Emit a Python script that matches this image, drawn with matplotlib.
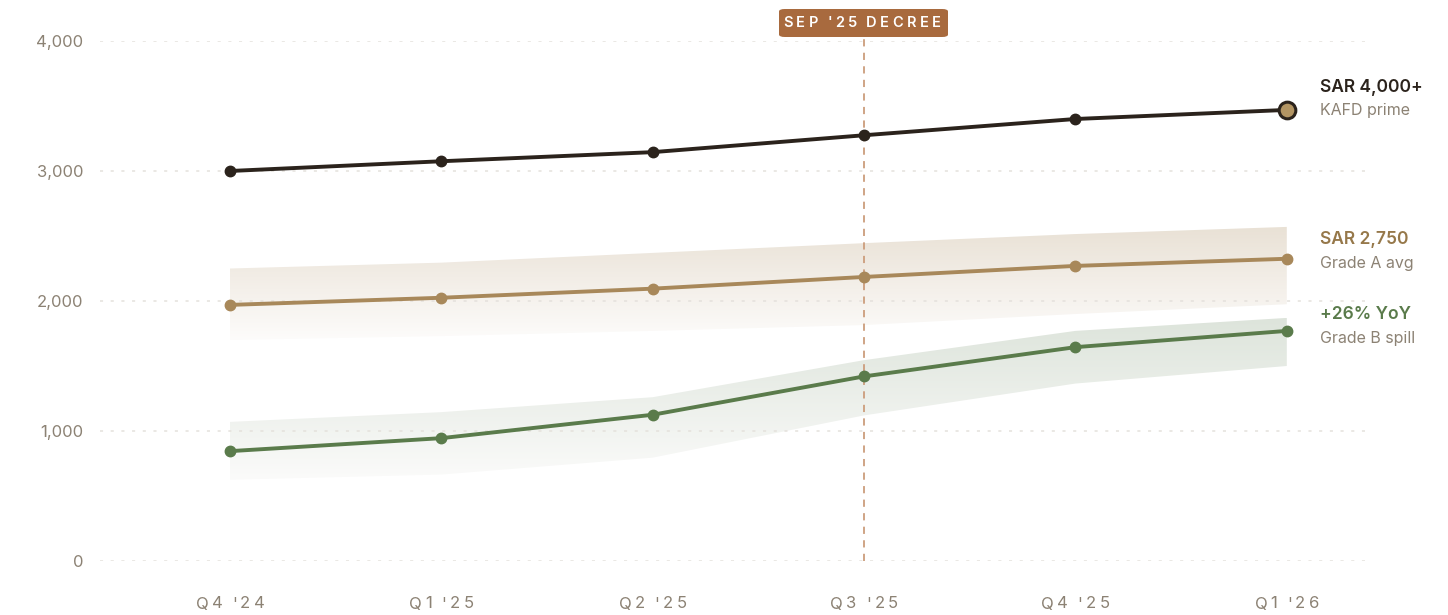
import matplotlib.pyplot as plt
import matplotlib.transforms as mtransforms
from matplotlib.colors import LinearSegmentedColormap
from matplotlib.font_manager import FontProperties
from matplotlib.textpath import TextToPath
from matplotlib.patches import FancyBboxPatch
import numpy as np

plt.rcParams['font.family'] = ['Inter', 'DejaVu Sans']

quarters = ["Q4 '24", "Q1 '25", "Q2 '25", "Q3 '25", "Q4 '25", "Q1 '26"]
kafd_prime = [3000, 3075, 3145, 3275, 3400, 3470]
grade_a = [1970, 2025, 2095, 2185, 2270, 2325]
grade_a_hi = [2250, 2295, 2370, 2445, 2515, 2570]
grade_a_lo = [1700, 1730, 1770, 1815, 1900, 1975]
grade_b = [845, 945, 1125, 1420, 1645, 1770]
grade_b_hi = [1070, 1145, 1260, 1545, 1770, 1870]
grade_b_lo = [625, 665, 795, 1120, 1365, 1500]
y_ticks = [0, 1000, 2000, 3000, 4000]
decree_idx = 3

DARK = '#2b231c'
TAN = '#a8885a'
GREEN = '#5a7b4b'
MUTED = '#8c8274'

fig = plt.figure(figsize=(14.48, 6.15), dpi=100)
ax = fig.add_axes([100 / 1448, 54 / 615, 1265 / 1448, 520 / 615])
x = np.arange(len(quarters))
for s in ax.spines.values():
    s.set_visible(False)
ax.set_xticks([])
ax.set_yticks(y_ticks)
ax.set_yticklabels([f'{v:,}' for v in y_ticks], color=MUTED, fontsize=12)
ax.tick_params(axis='y', length=0, pad=12)

for v in y_ticks:
    ax.axhline(v, color='#e4e1dc', lw=1.1, ls=(0, (2, 5)), zorder=2)


def gradient_band(lo, hi, top, bottom):
    poly = ax.fill_between(x, lo, hi, color='none', lw=0)
    cmap = LinearSegmentedColormap.from_list('band', [bottom, top])
    grad = np.linspace(0, 1, 256).reshape(-1, 1)
    im = ax.imshow(grad, cmap=cmap, aspect='auto', origin='lower',
                   extent=[x[0], x[-1], min(lo), max(hi)], zorder=1)
    im.set_clip_path(poly.get_paths()[0], transform=ax.transData)


gradient_band(grade_a_lo, grade_a_hi, '#e9e1d5', '#fdfcfb')
gradient_band(grade_b_lo, grade_b_hi, '#dde4db', '#fbfbfa')
ax.set_xlim(-0.615, 5.37)
ax.set_ylim(0, 4000)

# decree marker
ax.plot([decree_idx, decree_idx], [0, 4000 + 30], color='#cc9d7c', lw=1.3,
        ls=(0, (4, 3.5)), zorder=2, clip_on=False)

ax.plot(x, kafd_prime, color=DARK, lw=2.8, marker='o', ms=7.5, zorder=4)
ax.plot(x[-1], kafd_prime[-1], marker='o', ms=12, mfc='#b39563', mec=DARK,
        mew=2.2, zorder=5, clip_on=False)
ax.plot(x, grade_a, color=TAN, lw=2.8, marker='o', ms=7.5, zorder=4)
ax.plot(x, grade_b, color=GREEN, lw=2.8, marker='o', ms=7.5, zorder=4)

t2p = TextToPath()


def spaced_text(xd, yd, s, spacing, size, weight='normal', color='k', transform=None):
    # letter-spaced text, one glyph at a time
    prop = FontProperties(family=['Inter', 'DejaVu Sans'], size=size, weight=weight)
    widths = []
    for c in s:
        if c == ' ':
            w = 0.6 * (t2p.get_text_width_height_descent('a a', prop, ismath=False)[0]
                       - t2p.get_text_width_height_descent('aa', prop, ismath=False)[0])
        else:
            w = t2p.get_text_width_height_descent(c, prop, ismath=False)[0]
        widths.append(w)
    total = sum(widths) + spacing * (len(s) - 1)
    off = -total / 2
    for c, w in zip(s, widths):
        tr = mtransforms.offset_copy(transform, fig=fig, x=off, y=0, units='points')
        fig.text(xd, yd, c, transform=tr, fontproperties=prop, color=color,
                 ha='left', va='center')
        off += w + spacing


blend = mtransforms.blended_transform_factory(ax.transData, fig.transFigure)
for i, q in enumerate(quarters):
    spaced_text(i, 1 - 604 / 615, q, 2.4, 12, color=MUTED, transform=blend)

# decree tag
box = FancyBboxPatch((779 / 1448, 1 - 37 / 615), 169 / 1448, 28 / 615,
                     boxstyle='round,pad=0,rounding_size=0.004',
                     transform=fig.transFigure, fc='#a86a3e', ec='none')
fig.patches.append(box)
spaced_text(862 / 1448, 1 - 23 / 615, "SEP '25 DECREE", 2.5, 10.5, weight='semibold',
            color='white', transform=fig.transFigure)

# end labels
lx = 1320 / 1448
labels = [
    (87, 'SAR 4,000+', DARK, 110, 'KAFD prime'),
    (240, 'SAR 2,750', '#96784a', 264, 'Grade A avg'),
    (314, '+26% YoY', GREEN, 338, 'Grade B spill'),
]
for y1, t1, c1, y2, t2 in labels:
    fig.text(lx, 1 - y1 / 615, t1, color=c1, fontsize=12.5, fontweight='semibold',
             ha='left', va='center')
    fig.text(lx, 1 - y2 / 615, t2, color=MUTED, fontsize=11.5, ha='left', va='center')

fig.savefig('out.png', dpi=100)
